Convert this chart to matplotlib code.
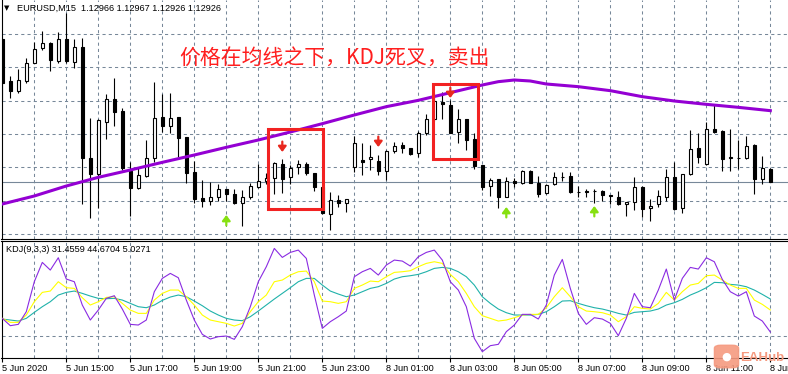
import matplotlib
matplotlib.use("Agg")
import matplotlib.pyplot as plt
from matplotlib.patches import Rectangle, FancyBboxPatch
import numpy as np

plt.rcParams["font.family"] = ["Liberation Sans", "DejaVu Sans"]

# EURUSD M15 bars, 5 Jun 2020 13:00 .. 8 Jun 2020 13:00
opens = [1.13355, 1.13229, 1.13199, 1.13229, 1.13283, 1.13328, 1.13343, 1.13289, 1.13355, 1.13286,
         1.13331, 1.12998, 1.12950, 1.13106, 1.13175, 1.13139, 1.12959, 1.12908, 1.12944, 1.12998,
         1.13121, 1.13094, 1.13121, 1.13061, 1.12956, 1.12878, 1.12869, 1.12881, 1.12905, 1.12890,
         1.12863, 1.12881, 1.12911, 1.12929, 1.12938, 1.12980, 1.12941, 1.12971, 1.12980, 1.12953,
         1.12911, 1.12830, 1.12872, 1.12863, 1.12971, 1.12992, 1.12995, 1.12989, 1.12959, 1.13019,
         1.13037, 1.13028, 1.13013, 1.13073, 1.13115, 1.13166, 1.13157, 1.13076, 1.13115, 1.13055,
         1.12977, 1.12914, 1.12935, 1.12881, 1.12929, 1.12923, 1.12959, 1.12923, 1.12893, 1.12920,
         1.12941, 1.12944, 1.12896, 1.12899, 1.12899, 1.12899, 1.12887, 1.12881, 1.12860, 1.12866,
         1.12911, 1.12848, 1.12860, 1.12881, 1.12941, 1.12848, 1.12950, 1.13028, 1.12980, 1.13085,
         1.13079, 1.12998, 1.12998, 1.12998, 1.13037, 1.12935, 1.12966]
highs = [1.13355, 1.13244, 1.13265, 1.13298, 1.13346, 1.13379, 1.13346, 1.13376, 1.13433, 1.13355,
         1.13358, 1.13118, 1.13115, 1.13190, 1.13238, 1.13148, 1.12986, 1.12968, 1.13052, 1.13226,
         1.13190, 1.13193, 1.13121, 1.13061, 1.12989, 1.12932, 1.12926, 1.12920, 1.12905, 1.12905,
         1.12902, 1.12923, 1.12980, 1.12953, 1.12986, 1.12995, 1.12977, 1.12992, 1.12986, 1.12953,
         1.12911, 1.12896, 1.12887, 1.12875, 1.13064, 1.13043, 1.13037, 1.13007, 1.13022, 1.13046,
         1.13046, 1.13028, 1.13079, 1.13130, 1.13193, 1.13196, 1.13172, 1.13145, 1.13115, 1.13073,
         1.12977, 1.12938, 1.12935, 1.12941, 1.12938, 1.12962, 1.12962, 1.12944, 1.12920, 1.12956,
         1.12956, 1.12956, 1.12914, 1.12905, 1.12905, 1.12902, 1.12887, 1.12899, 1.12866, 1.12941,
         1.12914, 1.12875, 1.12902, 1.12965, 1.12986, 1.12950, 1.13082, 1.13073, 1.13106, 1.13157,
         1.13082, 1.13085, 1.13052, 1.13064, 1.13040, 1.13004, 1.12967]
lows = [1.13172, 1.13178, 1.13193, 1.13223, 1.13283, 1.13322, 1.13259, 1.13283, 1.13283, 1.13268,
        1.12860, 1.12818, 1.12848, 1.13055, 1.13094, 1.12962, 1.12824, 1.12905, 1.12941, 1.12986,
        1.13076, 1.13073, 1.13001, 1.12923, 1.12863, 1.12851, 1.12857, 1.12869, 1.12869, 1.12860,
        1.12794, 1.12875, 1.12908, 1.12920, 1.12890, 1.12893, 1.12920, 1.12950, 1.12947, 1.12899,
        1.12830, 1.12782, 1.12851, 1.12836, 1.12956, 1.12947, 1.12962, 1.12947, 1.12932, 1.13013,
        1.13013, 1.13007, 1.13001, 1.13067, 1.13109, 1.13115, 1.13073, 1.13043, 1.13022, 1.12965,
        1.12902, 1.12884, 1.12848, 1.12881, 1.12911, 1.12920, 1.12923, 1.12881, 1.12890, 1.12917,
        1.12929, 1.12893, 1.12881, 1.12881, 1.12863, 1.12869, 1.12860, 1.12857, 1.12824, 1.12842,
        1.12821, 1.12809, 1.12851, 1.12869, 1.12842, 1.12833, 1.12947, 1.12983, 1.12977, 1.13073,
        1.12959, 1.12959, 1.12965, 1.12995, 1.12890, 1.12920, 1.12926]
closes = [1.13223, 1.13199, 1.13232, 1.13283, 1.13325, 1.13343, 1.13292, 1.13355, 1.13289, 1.13331,
          1.12998, 1.12950, 1.13112, 1.13175, 1.13136, 1.12968, 1.12908, 1.12947, 1.12998, 1.13118,
          1.13094, 1.13118, 1.13058, 1.12953, 1.12875, 1.12869, 1.12881, 1.12905, 1.12890, 1.12863,
          1.12881, 1.12914, 1.12929, 1.12938, 1.12983, 1.12935, 1.12968, 1.12980, 1.12953, 1.12911,
          1.12833, 1.12872, 1.12863, 1.12875, 1.13043, 1.12986, 1.13001, 1.12959, 1.13019, 1.13034,
          1.13028, 1.13010, 1.13073, 1.13115, 1.13169, 1.13160, 1.13073, 1.13115, 1.13052, 1.12974,
          1.12911, 1.12932, 1.12881, 1.12929, 1.12923, 1.12959, 1.12923, 1.12890, 1.12917, 1.12941,
          1.12942, 1.12896, 1.12895, 1.12896, 1.12898, 1.12887, 1.12884, 1.12860, 1.12866, 1.12911,
          1.12845, 1.12854, 1.12884, 1.12941, 1.12845, 1.12950, 1.13025, 1.13001, 1.13085, 1.13076,
          1.12995, 1.13001, 1.12997, 1.13035, 1.12935, 1.12968, 1.12926]
last_price = 1.12926

# moving average, read at a few bars
ma_bars = [0, 4, 8, 12, 16, 20, 24, 28, 32, 36, 40, 44, 48, 52, 56, 60, 62, 64, 66, 68,
           72, 76, 80, 84, 88, 92, 96]
ma_values = [1.12860, 1.12884, 1.12914, 1.12940, 1.12962, 1.12985, 1.13007, 1.13030, 1.13052,
             1.13076, 1.13101, 1.13127, 1.13152, 1.13171, 1.13194, 1.13217, 1.13227, 1.13232,
             1.13229, 1.13220, 1.13212, 1.13200, 1.13182, 1.13169, 1.13159, 1.13150, 1.13140]

# KDJ(9,3,3)
kdj_k = [21.4, 16.6, 16.6, 25.4, 41.4, 52.6, 54.2, 65.4, 58.2, 57.4,
         46.2, 37.4, 41.4, 46.6, 47.4, 39.4, 31.4, 27.4, 27.4, 43.4,
         51.4, 55.4, 55.4, 47.4, 37.4, 25.4, 19.4, 17.4, 15.4, 12.2,
         15.4, 29.4, 41.4, 49.4, 65.4, 67.4, 73.4, 77.4, 78.2, 65.4,
         42.2, 41.4, 39.4, 41.4, 57.4, 61.4, 66.2, 65.4, 71.4, 76.6,
         77.4, 78.6, 83.4, 87.4, 89.4, 87.4, 74.2, 65.4, 51.4, 35.4,
         24.6, 21.4, 18.2, 19.4, 22.2, 25.4, 26.2, 26.2, 34.2, 47.4,
         58.2, 47.4, 35.4, 30.2, 29.4, 28.2, 25.4, 17.4, 23.4, 35.4,
         33.4, 32.6, 39.4, 52.6, 43.4, 53.4, 61.4, 63.4, 72.6, 73.4,
         67.4, 61.4, 57.4, 57.4, 43.4, 38.2, 31.4559]
kdj_d = [20.6, 19.4, 18.2, 21.4, 28.6, 35.4, 41.4, 49.4, 52.6, 54.2,
         51.4, 48.2, 45.4, 45.0, 45.4, 43.4, 39.4, 35.4, 34.2, 37.4,
         43.0, 47.0, 49.4, 47.4, 42.2, 36.6, 30.2, 25.4, 21.4, 19.4,
         18.6, 23.4, 30.2, 37.4, 44.6, 51.4, 58.2, 65.4, 69.4, 69.4,
         61.4, 54.2, 50.6, 47.4, 49.4, 53.4, 57.4, 59.4, 63.4, 68.6,
         71.4, 72.6, 74.2, 77.4, 81.4, 82.6, 81.4, 77.4, 71.4, 61.4,
         47.4, 39.4, 32.6, 28.2, 25.4, 25.4, 25.4, 26.2, 29.4, 35.4,
         42.2, 42.6, 39.4, 36.6, 34.2, 32.6, 30.2, 27.4, 25.4, 28.6,
         29.4, 30.2, 32.6, 37.4, 40.2, 44.2, 49.4, 53.4, 58.2, 64.6,
         64.2, 62.2, 61.4, 59.4, 55.4, 50.2, 44.6704]
kdj_j = [21.4, 12.6, 14.2, 29.4, 65.4, 88.6, 79.4, 94.2, 68.6, 65.4,
         37.4, 19.4, 31.4, 45.4, 48.6, 32.6, 14.2, 13.4, 19.4, 53.4,
         69.4, 75.4, 70.2, 43.4, 19.4, 2.2, -3.4, -0.6, 0.2, -3.8,
         11.4, 35.4, 65.4, 83.4, 105.4, 94.6, 100.6, 103.4, 93.4, 49.4,
         9.4, 17.4, 23.4, 30.2, 71.4, 77.4, 81.4, 73.4, 85.4, 91.4,
         90.2, 84.2, 95.4, 100.6, 103.4, 91.4, 65.4, 55.4, 35.4, -2.6,
         -18.6, -11.4, -9.8, 5.4, 13.4, 26.2, 26.2, 20.6, 37.4, 73.4,
         92.2, 57.4, 27.4, 14.2, 22.2, 20.6, 15.4, 0.6, 21.4, 51.4,
         35.4, 34.2, 55.4, 80.6, 43.4, 69.4, 82.6, 80.6, 94.2, 89.4,
         68.2, 53.4, 48.2, 53.4, 24.2, 18.2, 5.0271]

label_bars = [0, 8, 16, 24, 32, 40, 48, 56, 64, 72, 80, 88, 96]
time_labels = ["5 Jun 2020", "5 Jun 15:00", "5 Jun 17:00", "5 Jun 19:00", "5 Jun 21:00",
               "5 Jun 23:00", "8 Jun 01:00", "8 Jun 03:00", "8 Jun 05:00", "8 Jun 07:00",
               "8 Jun 09:00", "8 Jun 11:00", "8 Jun 13:00"]
price_grid = [1.1277, 1.1287, 1.1297, 1.1307, 1.1317, 1.1327, 1.1337]

# signal arrows (tip price) and marked zones
sell_bars = [35, 47, 56]
sell_tips = [1.13016, 1.13031, 1.13178]
buy_bars = [28, 63, 74]
buy_tips = [1.12827, 1.12851, 1.12854]
zone_bars = [(33.25, 40.13), (53.78, 59.5)]
zone_prices = [(1.12844, 1.13084), (1.12994, 1.13220)]

W, H = 788, 374
GRID = "#778899"
DASH = (0, (3, 3))


def fx(px):
    return px / W


def fy(py):
    return 1 - py / H


def signal_arrow(ax, bar, tip, color, down):
    # stem + head, drawn toward the tip
    ax.annotate("", xy=(bar, tip), xytext=(0, 7.5 if down else -7.5), textcoords="offset points",
                arrowprops=dict(arrowstyle="-|>,head_width=0.24,head_length=0.32",
                                color=color, lw=1.6, shrinkA=0, shrinkB=0),
                zorder=6)


fig = plt.figure(figsize=(W / 100, H / 100), dpi=100)
ax = fig.add_axes([fx(1.5), fy(238.5), (792 - 1.5) / W, 238.5 / H])
ax2 = fig.add_axes([fx(1.5), fy(358), (792 - 1.5) / W, (358 - 240.5) / H])

n = len(opens)
idx = np.arange(n)
o = np.array(opens)
c = np.array(closes)

for a in (ax, ax2):
    a.set_xlim(-0.1, 98.71)
    a.spines["right"].set_visible(False)
    for s in ("left", "bottom", "top"):
        a.spines[s].set_linewidth(0.8)
    a.set_yticks([])
    for b in range(4, n, 4):
        a.axvline(b, color=GRID, lw=0.75, ls=DASH, zorder=0)
ax.spines["top"].set_visible(False)

# main chart
ax.set_ylim(1.127565, 1.13472)
ax.set_xticks([])
for p in price_grid:
    ax.axhline(p, color=GRID, lw=0.75, ls=DASH, zorder=0)
ax.axhline(last_price, color=GRID, lw=0.8, zorder=1)

ax.vlines(idx, lows, highs, color="black", lw=0.8, zorder=2)
up = c >= o
body_h = np.maximum(np.abs(c - o), 0.000012)
ax.bar(idx, body_h, bottom=np.minimum(o, c), width=0.45,
       color=np.where(up, "white", "black"), edgecolor="black", linewidth=0.8, zorder=3)

ax.plot(ma_bars, ma_values, color="#9400D3", lw=2.2, zorder=4)

for (x0, x1), (p0, p1) in zip(zone_bars, zone_prices):
    ax.add_patch(Rectangle((x0, p0), x1 - x0, p1 - p0, fill=False,
                           edgecolor="#F22222", lw=2.2, zorder=5))

for b, p in zip(sell_bars, sell_tips):
    signal_arrow(ax, b, p, "#E8281E", True)
for b, p in zip(buy_bars, buy_tips):
    signal_arrow(ax, b, p, "#86E010", False)

fig.text(fx(179), fy(58), "价格在均线之下，KDJ死叉，卖出", color="#FF1E1E",
         fontsize=15, family=["Noto Sans CJK SC", "DejaVu Sans"], va="center", ha="left")

fig.text(fx(4), fy(8.5), "▼", fontsize=5, va="center", ha="left", family="DejaVu Sans")
fig.text(fx(17), fy(8.5), "EURUSD,M15  1.12966 1.12967 1.12926 1.12926",
         fontsize=6.6, va="center", ha="left")

# KDJ panel
ax2.set_ylim(-26.2, 114.9)
ax2.axhline(0, color=GRID, lw=0.75, ls=DASH, zorder=0)
ax2.plot(idx, kdj_d, color="#20B2AA", lw=0.8, zorder=2)
ax2.plot(idx, kdj_k, color="#FFFF00", lw=0.8, zorder=3)
ax2.plot(idx, kdj_j, color="#8A2BE2", lw=0.8, zorder=4)
ax2.set_xticks(label_bars)
ax2.set_xticklabels(time_labels, ha="left")
ax2.tick_params(axis="x", length=3, width=0.8, pad=1.2, labelsize=6.6)
fig.text(fx(6), fy(249), "KDJ(9,3,3) 31.4559 44.6704 5.0271", fontsize=6.6,
         va="center", ha="left")

# watermark
fig.patches.append(FancyBboxPatch((fx(716), fy(367)), 21 / W, 21 / H,
                                  boxstyle="round,pad=0.002,rounding_size=0.008",
                                  transform=fig.transFigure, color="#F59A80", alpha=0.9))
fig.text(fx(726.5), fy(356.5), "●", color="white", fontsize=8, ha="center", va="center",
         family="DejaVu Sans")
fig.text(fx(740), fy(358), "EAHub", color="#F59A80", fontsize=9.5, fontweight="bold",
         ha="left", va="center")

fig.savefig("out.png", dpi=100)
